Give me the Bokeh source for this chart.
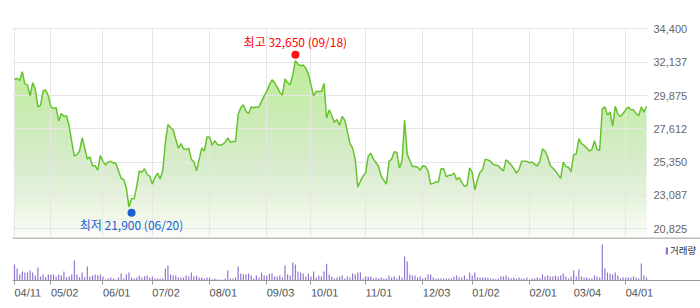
import numpy as np
from bokeh.plotting import figure
from bokeh.layouts import column
from bokeh.models import Range1d, FixedTicker, NumeralTickFormatter, Span, Legend, LegendItem
from bokeh.core.properties import value
from bokeh.embed import file_html
from bokeh.resources import INLINE

# ---------------- data ----------------
close = [
    30950, 31050, 30900, 31500, 30650, 30600, 29850, 30750, 30300, 29100,
    29200, 30200, 30250, 29850, 29100, 29000, 29050, 28150, 28650, 28450,
    28500, 27800, 26750, 25750, 25850, 26100, 27000, 26300, 25550, 25700,
    25100, 25100, 24800, 25800, 25400, 25150, 25350, 25400, 25300, 25250,
    24750, 24250, 24150, 23600, 22300, 22850, 22850, 23700, 24750, 24650,
    24900, 24500, 24400, 23850, 24300, 24600, 24200, 24750, 26650, 27900,
    27700, 27550, 26900, 26300, 26600, 26250, 26200, 26300, 25550, 25350,
    24750, 25550, 26300, 26100, 27050, 27050, 26500, 26800, 26550, 26500,
    26550, 26700, 27000, 26700, 26750, 26750, 28600, 29050, 29250, 28800,
    28650, 29100, 29050, 29100, 29100, 29500, 29850, 30150, 30600, 30950,
    30750, 30450, 30100, 29900, 31000, 30750, 30600, 31300, 32250, 32000,
    31900, 31950, 31750, 31350, 30600, 29850, 30150, 30150, 30150, 30700,
    28350, 28900, 28500, 28050, 28250, 27850, 28450, 28200, 27400, 26600,
    26300, 25550, 23650, 24050, 24400, 24600, 25750, 25950, 25550, 25300,
    25050, 24400, 24100, 23850, 25400, 25550, 26050, 26000, 24950, 25400,
    28200, 25900, 25450, 25050, 25050, 25000, 24800, 25100, 25050, 24750,
    23850, 23900, 24000, 24000, 24900, 24900, 24350, 24450, 24450, 24600,
    24150, 24300, 23950, 23700, 23750, 24950, 24650, 23450, 24150, 24650,
    24850, 25550, 25500, 25400, 25200, 25150, 25100, 24900, 24750, 25500,
    25350, 25150, 24900, 24600, 24850, 25400, 25400, 25400, 25300, 25350,
    25200, 25100, 25400, 26250, 26100, 25700, 25100, 24950, 24750, 24500,
    24250, 25350, 25050, 25000, 24700, 25850, 25900, 26950, 26600, 26500,
    26300, 26100, 26200, 26800, 26200, 26150, 28950, 29100, 28550, 28750,
    27800, 29150, 28600, 28450, 28650, 28900, 29100, 28900, 28900, 28650,
    28500, 29100, 28750, 29150,
]

volume = [  # relative volume units
    480, 360, 180, 270, 240, 240, 300, 240, 150, 390,
    120, 180, 100, 180, 180, 180, 120, 180, 160, 270,
    100, 130, 180, 600, 180, 100, 240, 100, 420, 120,
    150, 180, 150, 180, 120, 30, 60, 90, 60, 30,
    90, 210, 60, 180, 240, 90, 60, 90, 150, 90,
    130, 150, 90, 120, 60, 60, 60, 60, 360, 450,
    180, 160, 150, 90, 90, 90, 150, 130, 240, 120,
    150, 90, 90, 60, 90, 90, 40, 60, 30, 30,
    20, 60, 300, 60, 60, 90, 420, 210, 180, 180,
    210, 150, 60, 150, 90, 240, 150, 150, 210, 210,
    120, 120, 150, 90, 450, 180, 150, 540, 480, 270,
    240, 210, 120, 210, 120, 270, 90, 150, 120, 270,
    500, 180, 120, 60, 90, 120, 150, 60, 120, 90,
    210, 180, 240, 240, 60, 120, 120, 120, 60, 90,
    60, 90, 60, 60, 150, 90, 120, 60, 150, 90,
    720, 570, 180, 150, 150, 90, 120, 60, 90, 180,
    180, 90, 60, 60, 60, 60, 60, 60, 60, 120,
    150, 90, 90, 150, 60, 240, 150, 240, 90, 90,
    90, 90, 90, 60, 60, 40, 60, 120, 120, 150,
    90, 60, 90, 60, 90, 60, 60, 90, 30, 60,
    60, 90, 60, 180, 120, 150, 120, 120, 150, 120,
    150, 210, 120, 60, 120, 300, 120, 330, 120, 90,
    90, 60, 60, 150, 120, 90, 1080, 360, 240, 210,
    180, 240, 150, 60, 90, 90, 90, 90, 120, 90,
    60, 510, 150, 90,
]

tick_days = [0, 14, 34, 53, 75, 97, 114, 135, 157, 176, 198, 215, 235]
tick_labels = ["04/11", "05/02", "06/01", "07/02", "08/01", "09/03", "10/01",
               "11/01", "12/03", "01/02", "02/01", "03/04", "04/01"]
price_ticks = [20825, 23087, 25350, 27612, 29875, 32137, 34400]

hi_day, hi_value, hi_date = 108, 32650, "09/18"
lo_day, lo_value, lo_date = 45, 21900, "06/20"

days = list(range(len(close)))

# ---------------- styling ----------------
PX_PER_DAY = 2.6008
X0 = -2 / PX_PER_DAY
Y_LO, Y_HI = 20220, 34434
FRAME_W1, FRAME_H1 = 635, 209
FRAME_W2, FRAME_H2 = 688, 43
LINE_GREEN = "#66c32e"
FILL_GREEN = "#b3ec85"
VOL_COLOR = "#9173cf"
KFONT = "Noto Sans CJK KR"
NFONT = "Liberation Sans"

p1 = figure(frame_width=FRAME_W1, frame_height=FRAME_H1, output_backend="svg",
            toolbar_location=None, title=None, x_axis_location=None,
            y_axis_location="right",
            min_border_left=12, min_border_right=53, min_border_top=28,
            min_border_bottom=0,
            x_range=Range1d(X0, X0 + FRAME_W1 / PX_PER_DAY),
            y_range=Range1d(Y_LO, Y_HI))
p1.outline_line_color = None
p1.background_fill_color = "white"
p1.border_fill_color = "white"

# area fill (base colour) with a stacked white wash growing toward the bottom
p1.varea(x=days, y1=Y_LO, y2=close, fill_color=FILL_GREEN, fill_alpha=1.0)
upp = (Y_HI - Y_LO) / FRAME_H1
band_tops, band_alpha = [], []
prev_keep = 1.0
for a in range(0, FRAME_H1, 4):
    f = (a + 2) / FRAME_H1
    target = min(0.97, 0.03 + 0.93 * f)
    keep = 1.0 - target
    band_alpha.append(1.0 - keep / prev_keep)
    band_tops.append(Y_HI - a * upp)
    prev_keep = keep
p1.quad(left=X0, right=X0 + FRAME_W1 / PX_PER_DAY, top=band_tops, bottom=Y_LO,
        fill_color="white", fill_alpha=band_alpha, line_color=None)

p1.xgrid.ticker = FixedTicker(ticks=tick_days)
p1.yaxis.ticker = FixedTicker(ticks=price_ticks)
p1.grid.grid_line_color = "#e6e6e6"
p1.grid.grid_line_width = 1
p1.grid.level = "guide"

ya = p1.yaxis[0]
ya.formatter = NumeralTickFormatter(format="0,0")
ya.axis_line_color = None
ya.major_tick_line_color = None
ya.minor_tick_line_color = None
ya.major_tick_in = 0
ya.major_tick_out = 0
ya.major_label_standoff = 6
ya.major_label_text_font = NFONT
ya.major_label_text_font_size = "11px"
ya.major_label_text_color = "#666666"

p1.line(days, close, line_color=LINE_GREEN, line_width=1.5, level="overlay")

p1.scatter([hi_day], [hi_value], size=8, fill_color="#ff1111", line_color=None, level="overlay")
p1.scatter([lo_day], [lo_value], size=8, fill_color="#1b5fd6", line_color=None, level="overlay")
p1.text(x=[hi_day], y=[hi_value], text=[f"최고 {hi_value:,} ({hi_date})"],
        text_align="center", text_baseline="middle", y_offset=-13,
        text_color="#ff0000", text_font=value(KFONT), text_font_size="12px",
        level="overlay")
p1.text(x=[lo_day], y=[lo_value], text=[f"최저 {lo_value:,} ({lo_date})"],
        text_align="center", text_baseline="middle", y_offset=12,
        text_color="#1b5fd6", text_font=value(KFONT), text_font_size="12px",
        level="overlay")

# ---------------- volume ----------------
VOL_PER_PX = 30
p2 = figure(frame_width=FRAME_W2, frame_height=FRAME_H2, output_backend="svg",
            toolbar_location=None, title=None, y_axis_location=None,
            x_axis_location="below",
            min_border_left=12, min_border_right=0, min_border_top=0,
            min_border_bottom=28,
            x_range=Range1d(X0, X0 + FRAME_W2 / PX_PER_DAY),
            y_range=Range1d(0, FRAME_H2 * VOL_PER_PX))
p2.outline_line_color = None
p2.grid.visible = False
p2.background_fill_color = "white"
p2.border_fill_color = "white"

vb = p2.vbar(x=days, top=volume, width=0.45, fill_color=VOL_COLOR, line_color=None)
p2.add_layout(Span(location=(FRAME_H2 - 0.5) * VOL_PER_PX, dimension="width",
                   line_color="#7a7a7a", line_width=1))

xa = p2.xaxis[0]
xa.ticker = FixedTicker(ticks=tick_days)
xa.major_label_overrides = {d: l for d, l in zip(tick_days, tick_labels)}
xa.axis_line_color = "#999999"
xa.major_tick_line_color = "#999999"
xa.minor_tick_line_color = None
xa.major_tick_in = 0
xa.major_tick_out = 4
xa.major_label_orientation = -0.001
xa.major_label_standoff = 8
xa.major_label_text_font = NFONT
xa.major_label_text_font_size = "11px"
xa.major_label_text_color = "#555555"

legend = Legend(items=[LegendItem(label="거래량", renderers=[vb])],
                location=(653, 23), glyph_width=3, glyph_height=9,
                label_standoff=2, padding=0, margin=0, spacing=0,
                border_line_color=None, background_fill_alpha=0,
                label_text_font=KFONT, label_text_font_size="9.5px",
                label_text_color="#333333", label_height=9)
p2.add_layout(legend)

layout = column(p1, p2)
open("out.html", "w").write(file_html(layout, INLINE))
